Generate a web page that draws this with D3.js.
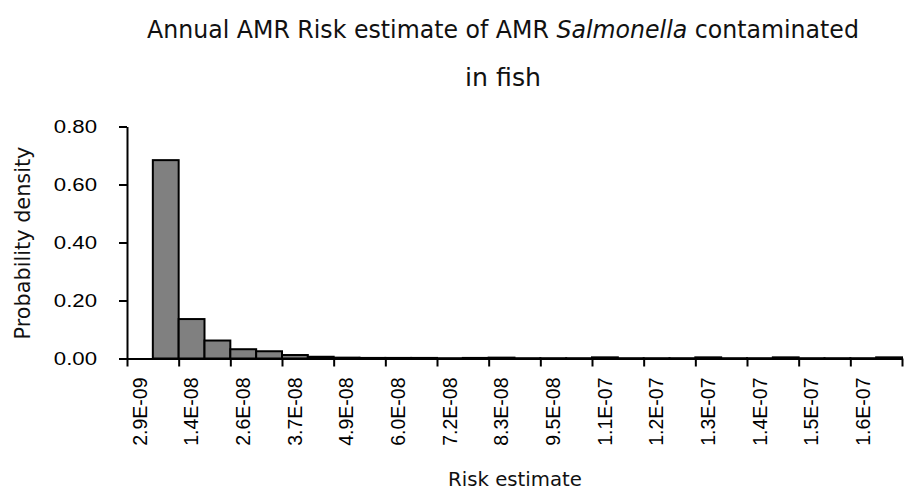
<!DOCTYPE html>
<html>
<head>
<meta charset="utf-8">
<script src="https://cdn.jsdelivr.net/npm/d3@7"></script>
<style>
  body { margin: 0; background: #fff; }
  svg { display: block; }
</style>
</head>
<body>
<svg id="chart" width="908" height="492"></svg>
<script>
// Histogram bins (bin label = representative risk value)
const binLabels = [
  "2.9E-09", "8.6E-09", "1.4E-08", "2.0E-08", "2.6E-08", "3.2E-08",
  "3.7E-08", "4.3E-08", "4.9E-08", "5.5E-08", "6.0E-08", "6.6E-08",
  "7.2E-08", "7.8E-08", "8.3E-08", "8.9E-08", "9.5E-08", "1.0E-07",
  "1.1E-07", "1.1E-07", "1.2E-07", "1.2E-07", "1.3E-07", "1.3E-07",
  "1.4E-07", "1.4E-07", "1.5E-07", "1.5E-07", "1.6E-07", "1.7E-07"
];
const density = [
  0.000, 0.684, 0.136, 0.062, 0.032, 0.025,
  0.012, 0.006, 0.003, 0.002, 0.002, 0.002,
  0.001, 0.002, 0.003, 0.001, 0.001, 0.001,
  0.004, 0.001, 0.001, 0.001, 0.004, 0.001,
  0.001, 0.004, 0.001, 0.001, 0.001, 0.004
];
const yTickValues = [0, 0.2, 0.4, 0.6, 0.8];

const svg = d3.select("#chart");
const plotLeft = 127, plotRight = 902, plotTop = 126.5, plotBottom = 358.5;
const idx = d3.range(binLabels.length);

const xBand = d3.scaleBand().domain(idx).range([plotLeft, plotRight]).padding(0);
const xEdge = d3.scaleLinear().domain([0, binLabels.length]).range([plotLeft, plotRight]);
const y = d3.scaleLinear().domain([0, 0.8]).range([plotBottom, plotTop]);

const tickFont = "'Liberation Sans', Arial, sans-serif";
const titleFont = "'DejaVu Sans', Verdana, sans-serif";

// Bars
svg.append("g")
  .selectAll("rect")
  .data(idx)
  .join("rect")
  .attr("x", i => xBand(i))
  .attr("width", xBand.bandwidth())
  .attr("y", i => y(density[i]))
  .attr("height", i => y(0) - y(density[i]))
  .attr("fill", "#808080")
  .attr("stroke", "#000")
  .attr("stroke-width", 2);

// Y axis
const yAxis = svg.append("g")
  .attr("transform", `translate(${plotLeft},0)`)
  .call(d3.axisLeft(y).tickValues(yTickValues).tickFormat(d3.format(".2f")).tickSize(8).tickSizeOuter(0));
yAxis.select(".domain").attr("stroke", "#000").attr("stroke-width", 2);
yAxis.selectAll(".tick line").attr("stroke", "#000").attr("stroke-width", 2);
yAxis.selectAll(".tick text")
  .attr("font-family", tickFont)
  .attr("font-size", 18.5)
  .attr("fill", "#000")
  .attr("x", 0)
  .attr("dy", "0.35em")
  .attr("transform", "translate(-30,0) scale(1.2,1)");

// X axis tick marks at bin edges (every second bin)
const xTicks = svg.append("g")
  .attr("transform", `translate(0,${plotBottom})`)
  .call(d3.axisBottom(xEdge).tickValues(d3.range(0, binLabels.length + 1, 2)).tickFormat("").tickSize(8).tickSizeOuter(0));
xTicks.select(".domain").attr("stroke", "#000").attr("stroke-width", 2);
xTicks.selectAll(".tick line").attr("stroke", "#000").attr("stroke-width", 2);

// X axis labels centred on every second bin
const xLabels = svg.append("g")
  .attr("transform", `translate(0,${plotBottom})`)
  .call(d3.axisBottom(xBand).tickValues(idx.filter(i => i % 2 === 0)).tickFormat(i => binLabels[i]).tickSize(0));
xLabels.select(".domain").remove();
xLabels.selectAll(".tick text")
  .attr("font-family", tickFont)
  .attr("font-size", 19.5)
  .attr("fill", "#000")
  .attr("text-anchor", "end")
  .attr("x", 0).attr("y", 0)
  .attr("dy", "0.35em")
  .attr("transform", "translate(0,19) rotate(-90)");

// Scale a text element horizontally so it spans the given width around cx
function fitWidth(sel, cx, cy, width) {
  const w = sel.node().getComputedTextLength();
  const k = width / w;
  sel.attr("x", 0).attr("y", 0).attr("text-anchor", "middle");
  sel.attr("transform", `translate(${cx},${cy}) scale(${k},1)`);
}

// Title
const t1 = svg.append("text")
  .attr("font-family", titleFont).attr("font-size", 24).attr("fill", "#111");
t1.append("tspan").text("Annual AMR Risk estimate of AMR ");
t1.append("tspan").attr("font-style", "italic").text("Salmonella");
t1.append("tspan").text(" contaminated");
fitWidth(t1, 503, 38, 712);

const t2 = svg.append("text")
  .attr("font-family", titleFont).attr("font-size", 24).attr("fill", "#111")
  .text("in fish");
fitWidth(t2, 503, 86, 76);

// Axis titles
const xt = svg.append("text")
  .attr("font-family", titleFont).attr("font-size", 20).attr("fill", "#111")
  .text("Risk estimate");
fitWidth(xt, 515, 486, 134);

const ytText = svg.append("text")
  .attr("font-family", titleFont).attr("font-size", 21).attr("fill", "#111")
  .attr("text-anchor", "middle")
  .text("Probability density");
{
  const w = ytText.node().getComputedTextLength();
  ytText.attr("transform", `translate(30,243) rotate(-90) scale(${193 / w},1)`);
}
</script>
</body>
</html>
